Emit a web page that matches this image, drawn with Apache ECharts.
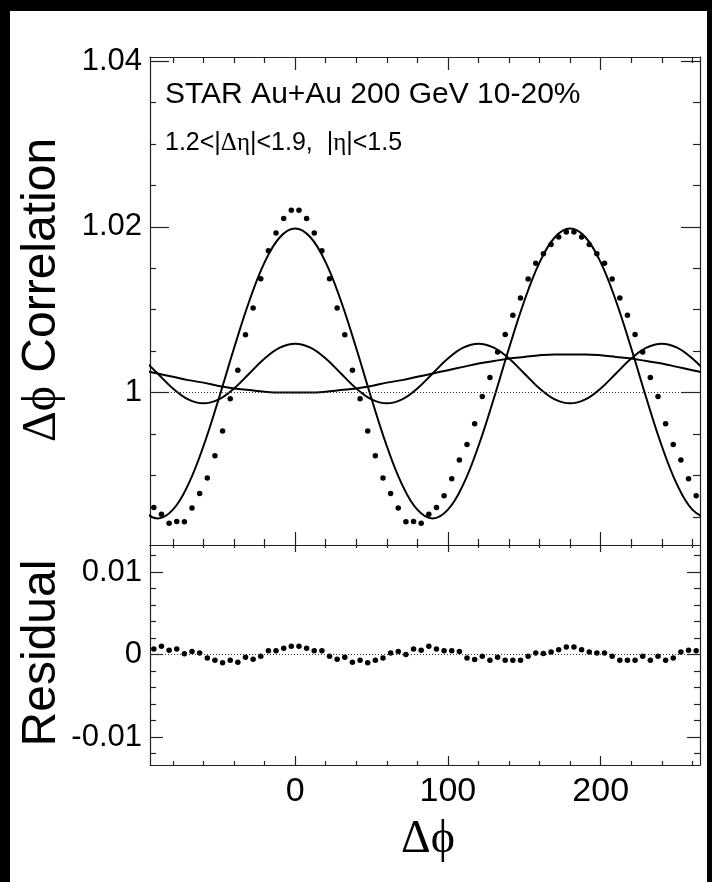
<!DOCTYPE html>
<html><head><meta charset="utf-8">
<script src="https://cdn.jsdelivr.net/npm/echarts@6/dist/echarts.min.js"></script>
<style>
html,body{margin:0;padding:0;background:#000;}
#paper{position:absolute;left:10px;top:11px;width:697px;height:871px;background:#fff;}
#chart{position:absolute;left:0;top:0;width:712px;height:882px;}
</style></head><body>
<div id="paper"></div><div id="chart"></div>
<script>
// ---- data ----
const phiBins = [-92.5,-87.5,-82.5,-77.5,-72.5,-67.5,-62.5,-57.5,-52.5,-47.5,-42.5,-37.5,-32.5,-27.5,-22.5,-17.5,-12.5,-7.5,-2.5,
  2.5,7.5,12.5,17.5,22.5,27.5,32.5,37.5,42.5,47.5,52.5,57.5,62.5,67.5,72.5,77.5,82.5,87.5,92.5,97.5,102.5,107.5,112.5,117.5,122.5,127.5,132.5,137.5,142.5,147.5,152.5,157.5,162.5,167.5,172.5,177.5,
  182.5,187.5,192.5,197.5,202.5,207.5,212.5,217.5,222.5,227.5,232.5,237.5,242.5,247.5,252.5,257.5,262.5];
const correlation = [0.98613,0.9853,0.98424,0.98444,0.98442,0.98608,0.98783,0.9897,0.99236,0.99537,0.99925,1.0027,1.00697,1.01021,1.01373,1.01711,1.01925,1.02102,1.0220,
  1.0220,1.02102,1.01925,1.01711,1.01373,1.01021,1.00697,1.0027,0.99925,0.99537,0.99236,0.9897,0.98783,0.98608,0.98442,0.98444,0.98424,0.9853,0.98613,0.98755,0.98961,0.99187,0.99373,0.99624,0.99951,1.00181,1.0049,1.00702,1.00934,1.01142,1.01371,1.01562,1.01676,1.01787,1.01876,1.01939,
  1.01939,1.01876,1.01787,1.01676,1.01562,1.01371,1.01142,1.00934,1.00702,1.0049,1.00181,0.99951,0.99624,0.99373,0.99187,0.98961,0.98755];
const residual = [0.00069,0.0010,0.00052,0.00069,0.0001,0.00036,0.0002,-0.0004,-0.00069,-0.0010,-0.00069,-0.00093,-0.00032,-0.00056,-0.0002,0.00048,0.00048,0.00077,0.0010,
  0.0010,0.00077,0.00048,0.00048,-0.0002,-0.00056,-0.00032,-0.00093,-0.00069,-0.0010,-0.00069,-0.0004,0.0002,0.00036,0.0,0.00069,0.00052,0.0010,0.00069,0.00048,0.00048,0.00036,-0.0004,-0.0006,-0.0002,-0.00069,-0.00032,-0.00069,-0.00069,-0.00069,-0.0002,0.0002,0.00012,0.00032,0.0006,0.00093,
  0.00093,0.0006,0.00032,0.0002,0.0002,-0.0002,-0.00069,-0.00069,-0.00069,-0.0002,-0.00069,-0.0002,-0.00069,-0.0004,0.00032,0.00052,0.00048];
const curvePhi = [-100,-90,-80,-70,-60,-50,-40,-30,-20,-10,0,10,20,30,40,50,60,70,80,90,100,110,120,130,140,150,160,170,180,190,200,210,220,230,240,250,260,270];
const harmonic1 = [1.0027,1.0023,1.0019,1.0015,1.0012,1.0008,1.0005,1.0003,1.0001,1.0000,1.0000,1.0000,1.0001,1.0003,1.0005,1.0008,1.0012,1.0015,1.0019,1.0023,1.0027,1.0031,1.0035,1.0038,1.0041,1.0043,1.0045,1.0046,1.0046,1.0046,1.0045,1.0043,1.0041,1.0038,1.0035,1.0031,1.0027,1.0023];
const harmonic2 = [0.98586,0.9848,0.98586,0.98889,0.99355,0.99926,1.00534,1.01105,1.01571,1.01874,1.0198,1.01874,1.01571,1.01105,1.00534,0.99926,0.99355,0.98889,0.98586,0.9848,0.98586,0.98889,0.99355,0.99926,1.00534,1.01105,1.01571,1.01874,1.0198,1.01874,1.01571,1.01105,1.00534,0.99926,0.99355,0.98889,0.98586,0.9848];
const harmonic3 = [1.0041,1.0023,1.0005,0.99918,0.9987,0.99918,1.0005,1.0023,1.0041,1.00542,1.0059,1.00542,1.0041,1.0023,1.0005,0.99918,0.9987,0.99918,1.0005,1.0023,1.0041,1.00542,1.0059,1.00542,1.0041,1.0023,1.0005,0.99918,0.9987,0.99918,1.0005,1.0023,1.0041,1.00542,1.0059,1.00542,1.0041,1.0023];
const baseline = 1.0023;
const xMajor = [0,100,200];
const xTickLabels = ['0','100','200'];
const xMinor = [-80,-60,-40,-20,20,40,60,80,120,140,160,180,220,240,260];
const y1Major = [1.00,1.02,1.04];
const y1TickLabels = ['1','1.02','1.04'];
const y1Minor = [0.985,0.99,0.995,1.005,1.01,1.015,1.025,1.03,1.035];
const y2Major = [-0.01,0,0.01];
const y2TickLabels = ['-0.01','0','0.01'];
const y2Minor = [-0.012,-0.008,-0.006,-0.004,-0.002,0.002,0.004,0.006,0.008,0.012];

// ---- chart ----
const X_MIN=-95, X_MAX=265, Y1_MIN=0.9816, Y1_MAX=1.0405, Y2_MIN=-0.0134, Y2_MAX=0.0133;
const SANS='"Liberation Sans", Arial, Helvetica, sans-serif';
const SERIF='"Liberation Serif", "DejaVu Serif", serif';
const LC='#222';
function lookup(vals, labs){ return v => { for(let i=0;i<vals.length;i++){ if(Math.abs(vals[i]-v)<1e-9) return labs[i]; } return ''; }; }
function axis(gi,pos,min,max,ticks,len,line,labels,labelOpt){
  const a={type:'value',gridIndex:gi,position:pos,min:min,max:max,
    axisLine:{show:line,onZero:false,lineStyle:{color:LC,width:1.2}},
    axisTick:{show:true,inside:true,length:len,customValues:ticks,lineStyle:{color:LC,width:1.2}},
    splitLine:{show:false},axisPointer:{show:false},
    axisLabel:{show:false}};
  if(labels){ a.axisLabel=Object.assign({show:true,customValues:ticks,formatter:lookup(ticks,labels),color:'#000',fontFamily:SANS},labelOpt); }
  return a;
}
const xAxes=[
  axis(0,'bottom',X_MIN,X_MAX,xMajor,13,true),
  axis(0,'bottom',X_MIN,X_MAX,xMinor,6,false),
  axis(0,'top',X_MIN,X_MAX,xMajor,13,true),
  axis(0,'top',X_MIN,X_MAX,xMinor,6,false),
  axis(1,'bottom',X_MIN,X_MAX,xMajor,9,true,xTickLabels,{fontSize:34,margin:10}),
  axis(1,'bottom',X_MIN,X_MAX,xMinor,4,false),
  axis(1,'top',X_MIN,X_MAX,xMajor,7,true),
  axis(1,'top',X_MIN,X_MAX,xMinor,3,false)
];
const yAxes=[
  axis(0,'left',Y1_MIN,Y1_MAX,y1Major,19,true,y1TickLabels,{fontSize:31,margin:8,padding:[8,0,0,0]}),
  axis(0,'left',Y1_MIN,Y1_MAX,y1Minor,6,false),
  axis(0,'right',Y1_MIN,Y1_MAX,y1Major,19,true),
  axis(0,'right',Y1_MIN,Y1_MAX,y1Minor,7,false),
  axis(1,'left',Y2_MIN,Y2_MAX,y2Major,13,true,y2TickLabels,{fontSize:31,margin:8,padding:[8,0,0,0]}),
  axis(1,'left',Y2_MIN,Y2_MAX,y2Minor,6,false),
  axis(1,'right',Y2_MIN,Y2_MAX,y2Major,13,true),
  axis(1,'right',Y2_MIN,Y2_MAX,y2Minor,6,false)
];
function zip(a,b){ return a.map((v,i)=>[v,b[i]]); }
function curve(vals){ return {type:'line',xAxisIndex:0,yAxisIndex:0,data:zip(curvePhi,vals),smooth:0.4,showSymbol:false,symbol:'none',clip:true,
  lineStyle:{color:'#000',width:2},silent:true,z:3}; }
const chart=echarts.init(document.getElementById('chart'),null,{renderer:'canvas'});
chart.setOption({
  backgroundColor:'transparent',
  animation:false,
  grid:[
    {left:150,top:57,width:550,height:488,outerBoundsMode:'none',containLabel:false},
    {left:150,top:545,width:550,height:220,outerBoundsMode:'none',containLabel:false}
  ],
  xAxis:xAxes, yAxis:yAxes,
  series:[
    curve(harmonic1), curve(harmonic2), curve(harmonic3),
    {type:'scatter',xAxisIndex:0,yAxisIndex:0,data:zip(phiBins,correlation),symbol:'circle',symbolSize:5.5,
     itemStyle:{color:'#000',opacity:1},silent:true,z:4,
     markLine:{silent:true,symbol:'none',label:{show:false},lineStyle:{color:'#333',width:1,type:[1,2]},data:[{yAxis:baseline}]}},
    {type:'scatter',xAxisIndex:4,yAxisIndex:4,data:zip(phiBins,residual),symbol:'circle',symbolSize:5.5,
     itemStyle:{color:'#000',opacity:1},silent:true,z:4,
     markLine:{silent:true,symbol:'none',label:{show:false},lineStyle:{color:'#333',width:1,type:[1,2]},data:[{yAxis:0}]}}
  ],
  graphic:[
    {type:'text',x:165,y:95,style:{text:'STAR Au+Au 200 GeV 10-20%',font:'30px '+SANS,fill:'#000',align:'left',verticalAlign:'middle',textAlign:'left',textVerticalAlign:'middle'}},
    {type:'text',x:165,y:143,style:{text:'1.2<|{g|Δη}|<1.9,  |{g|η}|<1.5',font:'25px '+SANS,fill:'#000',align:'left',verticalAlign:'middle',textAlign:'left',textVerticalAlign:'middle',
      rich:{g:{font:'25px '+SERIF,fill:'#000'}}}},
    {type:'text',x:42,y:290,rotation:Math.PI/2,style:{text:'{g|Δϕ} Correlation',font:'48px '+SANS,fill:'#000',align:'center',verticalAlign:'middle',textAlign:'center',textVerticalAlign:'middle',
      rich:{g:{font:'48px '+SERIF,fill:'#000'}}}},
    {type:'text',x:42,y:653,rotation:Math.PI/2,style:{text:'Residual',font:'48px '+SANS,fill:'#000',align:'center',verticalAlign:'middle',textAlign:'center',textVerticalAlign:'middle'}},
    {type:'text',x:428,y:840,style:{text:'Δϕ',font:'46px '+SERIF,fill:'#000',align:'center',verticalAlign:'middle',textAlign:'center',textVerticalAlign:'middle'}}
  ]
});
</script></body></html>
